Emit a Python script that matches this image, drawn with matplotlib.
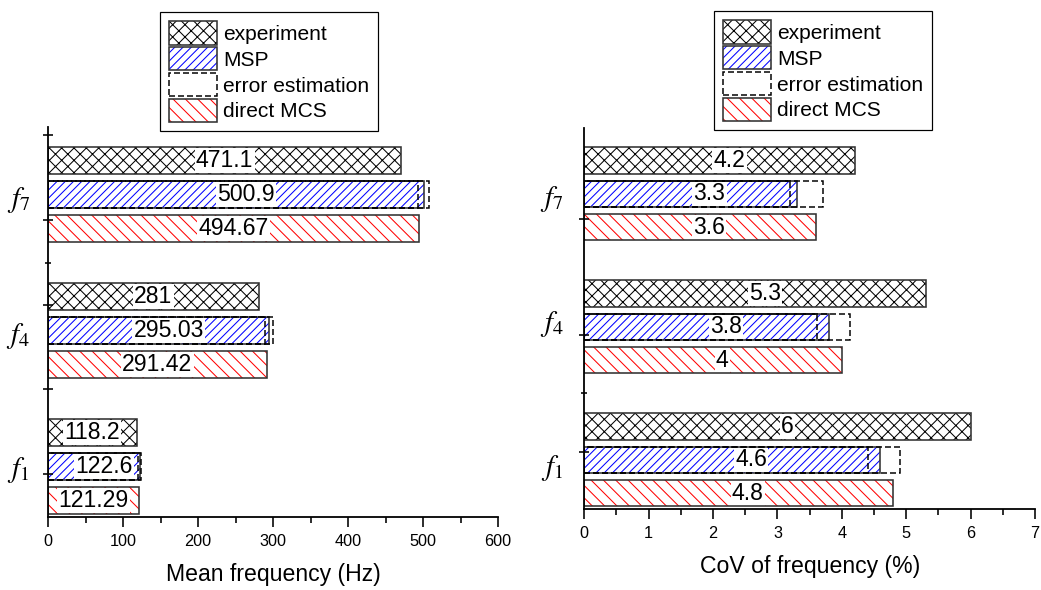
import matplotlib
matplotlib.use('Agg')
import matplotlib.pyplot as plt
from matplotlib.patches import Patch
from matplotlib.legend_handler import HandlerTuple
from matplotlib.ticker import MultipleLocator, FixedLocator

plt.rcParams['font.family'] = ['Liberation Sans', 'DejaVu Sans']
plt.rcParams['mathtext.fontset'] = 'stix'
plt.rcParams['hatch.linewidth'] = 0.5

# ---------------- data ----------------
modes = [r'$f_1$', r'$f_4$', r'$f_7$']
series = ['experiment', 'MSP', 'error estimation', 'direct MCS']

mean_experiment = [118.2, 281, 471.1]
mean_msp = [122.6, 295.03, 500.9]
mean_err_low = [120.3, 289.8, 493.4]
mean_err_high = [124.0, 300.0, 508.0]
mean_mcs = [121.29, 291.42, 494.67]

cov_experiment = [6, 5.3, 4.2]
cov_msp = [4.6, 3.8, 3.3]
cov_err_low = [4.41, 3.61, 3.2]
cov_err_high = [4.91, 4.12, 3.71]
cov_mcs = [4.8, 4, 3.6]

mean_xlabel = 'Mean frequency (Hz)'
cov_xlabel = 'CoV of frequency (%)'

# ---------------- figure ----------------
DPI = 148
W, H = 1041, 590
fig = plt.figure(figsize=(W / DPI, H / DPI), dpi=DPI)

def px(v):
    return v * 72.0 / DPI

ax1 = fig.add_axes([48 / W, (H - 517) / H, 450 / W, 390 / H])
ax2 = fig.add_axes([584.3 / W, (H - 509) / H, 450.7 / W, 381 / H])

BAR_H = 0.8
EDGE = '#333333'


def hbar(ax, y, vals, hatch, hcolor):
    hb = ax.barh(y, vals, height=BAR_H, color='white', edgecolor=hcolor,
                 hatch=hatch, linewidth=0, zorder=1)
    eb = ax.barh(y, vals, height=BAR_H, fill=False, edgecolor=EDGE,
                 linewidth=px(1.6), zorder=6)
    return hb, eb


def panel(ax, exp, msp, lo, hi, mcs, xmax, xmaj, xmin, offs, yt, xlabel, flabel_x, fdy):
    n = len(exp)
    y_mcs = [4 * g for g in range(n)]
    y_msp = [4 * g + 1 for g in range(n)]
    y_exp = [4 * g + 2 for g in range(n)]
    h_exp = hbar(ax, y_exp, exp, 'xxxx', 'black')
    h_msp = hbar(ax, y_msp, msp, '//////', 'blue')
    h_mcs = hbar(ax, y_mcs, mcs, '\\\\\\\\', 'red')
    for vals in (lo, hi):
        ax.barh(y_msp, vals, height=BAR_H, fill=False, edgecolor='black',
                linestyle=(0, (4, 2)), linewidth=px(1.5), zorder=7)
    for ys, vals, dx in ((y_exp, exp, offs[0]), (y_msp, msp, offs[1]), (y_mcs, mcs, offs[2])):
        for yy, v in zip(ys, vals):
            ax.annotate(f'{v:g}', xy=(v / 2, yy), xytext=(px(dx), 0),
                        textcoords='offset points', ha='center', va='center',
                        fontsize=11.2,
                        bbox=dict(boxstyle='square,pad=0.05', fc='white', ec='none'),
                        zorder=5)
    for g, lab in enumerate(modes):
        ax.text(flabel_x, 4 * g + 1 + fdy[g], lab, transform=ax.get_yaxis_transform(),
                ha='center', va='center', fontsize=14)
    ax.set_xlim(0, xmax)
    ax.set_ylim(-0.48, 10.985)
    ax.xaxis.set_major_locator(MultipleLocator(xmaj))
    ax.xaxis.set_minor_locator(MultipleLocator(xmin))
    ax.yaxis.set_major_locator(FixedLocator(yt[0]))
    ax.yaxis.set_minor_locator(FixedLocator(yt[1]))
    for s in ('top', 'right'):
        ax.spines[s].set_visible(False)
    for s in ('left', 'bottom'):
        ax.spines[s].set_linewidth(px(1.8))
        ax.spines[s].set_zorder(8)
    ax.tick_params(axis='x', which='major', direction='out', length=px(10),
                   width=px(1.6), labelsize=7.9, pad=px(7))
    ax.tick_params(axis='x', which='minor', direction='out', length=px(6), width=px(1.6))
    ax.tick_params(axis='y', which='major', direction='inout', length=px(10),
                   width=px(1.6), labelleft=False)
    ax.tick_params(axis='y', which='minor', direction='inout', length=px(6),
                   width=px(1.6), labelleft=False)
    ax.set_xlabel(xlabel, fontsize=11.2, labelpad=px(14))
    return h_exp, h_msp, h_mcs


l_maj = [0.78 + 2.49 * k for k in range(5)]
l_min = [7.0]
r_maj = [1.25 + 3.495 * k for k in range(3)]
r_min = [3.0]

h1 = panel(ax1, mean_experiment, mean_msp, mean_err_low, mean_err_high, mean_mcs,
           600, 100, 50, (0, 10, 0), (l_maj, l_min), mean_xlabel, -0.066,
           (-0.1, -0.15, -0.15))
h2 = panel(ax2, cov_experiment, cov_msp, cov_err_low, cov_err_high, cov_mcs,
           7, 1, 0.5, (10, 19, 9), (r_maj, r_min), cov_xlabel, -0.072,
           (-0.25, 0.1, -0.15))


def add_legend(h, anchor):
    (e_h, e_e), (m_h, m_e), (c_h, c_e) = h
    err = Patch(facecolor='white', edgecolor='black', linestyle=(0, (4, 2)),
                linewidth=px(1.5))
    handles = [(e_h[0], e_e[0]), (m_h[0], m_e[0]), err, (c_h[0], c_e[0])]
    leg = fig.legend(handles, series, loc='upper left', bbox_to_anchor=anchor,
                     bbox_transform=fig.transFigure,
                     handler_map={tuple: HandlerTuple(ndivide=1, pad=0)},
                     fontsize=10.2, handlelength=2.25, handleheight=1.33,
                     labelspacing=0.12, handletextpad=0.3, borderpad=0.45,
                     borderaxespad=0, frameon=True, fancybox=False,
                     edgecolor='black', framealpha=1)
    leg.get_frame().set_linewidth(px(1.2))
    return leg


add_legend(h1, (160 / W, 1 - 12 / H))
add_legend(h2, (714 / W, 1 - 11 / H))

fig.savefig('out.png', dpi=DPI)
